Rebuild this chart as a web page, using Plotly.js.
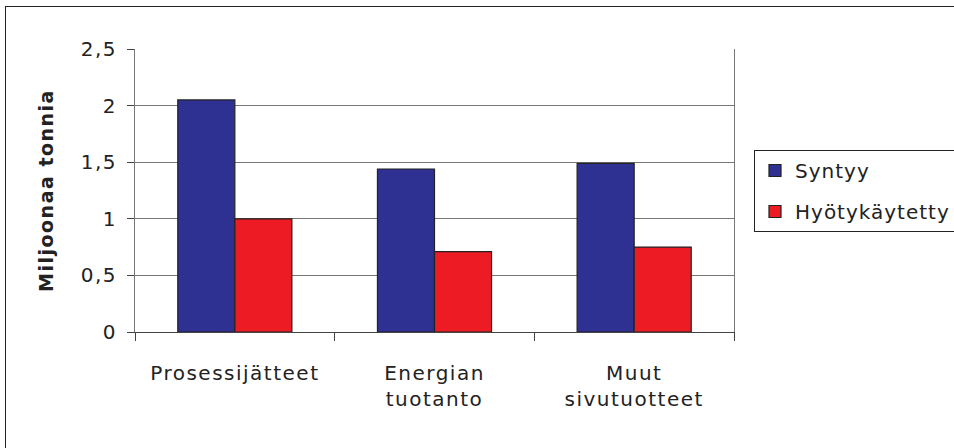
<!DOCTYPE html>
<html>
<head>
<meta charset="utf-8">
<script src="https://cdn.plot.ly/plotly-3.0.1.min.js"></script>
<style>
  body { margin: 0; background: #fff; }
  #wrap { position: relative; width: 954px; height: 448px; }
  #chart { position: absolute; left: 0; top: 0; width: 954px; height: 448px; }
  #frame { position: absolute; left: 5px; top: 6px; right: 0; bottom: 0;
           border-left: 1.5px solid #222; border-top: 1.5px solid #222; pointer-events: none; }
  /* the original text is set quite loose */
  svg text { letter-spacing: 1.5px; }
  .legend text { letter-spacing: 1px; }
</style>
</head>
<body>
<div id="wrap">
  <div id="chart"></div>
  <div id="frame"></div>
</div>
<script>
// Categories (line breaks as in the original labels)
const categories = ['Prosessijätteet', 'Energian<br>tuotanto', 'Muut<br>sivutuotteet'];

// Million tonnes
const syntyy = [2.05, 1.44, 1.49];
const hyotykaytetty = [1.0, 0.71, 0.75];

const barLine = { color: '#222', width: 1.2 };

const data = [
    {
        type: 'bar',
        x: categories,
        y: syntyy,
        name: 'Syntyy',
        legendgroup: 'a',
        marker: { color: '#2E3192', line: barLine },
    },
    {
        type: 'bar',
        x: categories,
        y: hyotykaytetty,
        name: 'Hyötykäytetty',
        legendgroup: 'b',
        marker: { color: '#ED1C24', line: barLine },
    },
];

const layout = {
    width: 954,
    height: 448,
    margin: { l: 135, r: 220, t: 49, b: 116 },
    paper_bgcolor: '#fff',
    plot_bgcolor: '#fff',
    separators: ', ',
    font: { family: 'DejaVu Sans, Arial, sans-serif', size: 20, color: '#222' },
    barmode: 'group',
    bargap: 0.4286,
    bargroupgap: 0,
    showlegend: true,
    legend: {
        xref: 'container', yref: 'container',
        x: 754 / 954, xanchor: 'left',
        y: 1 - 150 / 448, yanchor: 'top',
        bordercolor: '#222', borderwidth: 1,
        tracegroupgap: 12,
        font: { size: 20 },
    },
    xaxis: {
        showline: true, linecolor: '#444', linewidth: 1,
        ticks: 'outside', tickson: 'boundaries', ticklen: 8, tickcolor: '#444',
        ticklabelstandoff: 23,
        showgrid: false,
        tickfont: { size: 20 },
    },
    yaxis: {
        range: [0, 2.5], dtick: 0.5,
        showline: true, mirror: true, linecolor: '#777', linewidth: 1,
        ticks: 'outside', ticklen: 7, tickcolor: '#444',
        ticklabelstandoff: 6,
        showgrid: true, gridcolor: '#777', gridwidth: 1,
        zeroline: false,
        tickfont: { size: 20 },
        title: { text: '<b>Miljoonaa tonnia</b>', standoff: 22, font: { size: 19 } },
    },
};

Plotly.newPlot('chart', data, layout, { displayModeBar: false, staticPlot: true });
</script>
</body>
</html>
